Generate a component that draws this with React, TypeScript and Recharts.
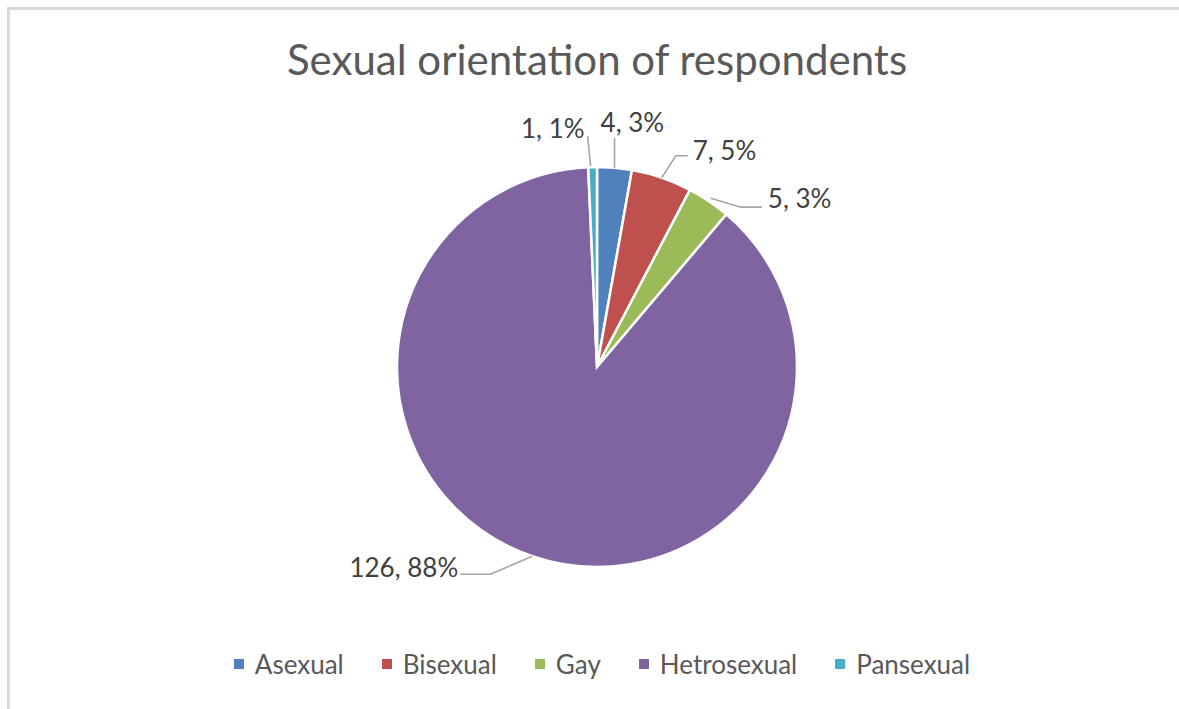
import { PieChart, Pie, Cell, Legend } from "recharts"

const categories = ["Asexual", "Bisexual", "Gay", "Hetrosexual", "Pansexual"]
const counts = [4, 7, 5, 126, 1]
const colors = ["#4F81BD", "#C0504D", "#9BBB59", "#8064A2", "#4BACC6"]

const total = counts.reduce((a, b) => a + b, 0)
const data = categories.map((name, i) => ({ name, value: counts[i] }))

const FONT = "Lato, 'Open Sans', sans-serif"
const RAD = Math.PI / 180

// leader line bends and text offsets, relative to the slice's outer edge point
const labelLayout = [
  { line: [[0, 0], [0, -30]], text: [-14, -46], anchor: "start" },
  { line: [[0, 0], [14, -22], [26, -22]], text: [31, -28], anchor: "start" },
  { line: [[2, -3], [32, 6], [53, 6]], text: [59, -3], anchor: "start" },
  { line: [[0, 0], [-42, 18], [-72, 18]], text: [-74, 11], anchor: "end" },
  { line: [[-2, -1], [-5, -31]], text: [-8, -39], anchor: "end" },
]

const renderLabel = (props: any) => {
  const { cx, cy, midAngle, outerRadius, index, value } = props
  const ex = cx + outerRadius * Math.cos(-midAngle * RAD)
  const ey = cy + outerRadius * Math.sin(-midAngle * RAD)
  const lay = labelLayout[index]
  const pts = lay.line.map(([dx, dy]) => `${ex + dx},${ey + dy}`).join(" ")
  const pct = Math.round((value / total) * 100)
  return (
    <g key={`lbl-${index}`}>
      <polyline points={pts} fill="none" stroke="#A6A6A6" strokeWidth={1.6} />
      <text
        x={ex + lay.text[0]}
        y={ey + lay.text[1]}
        textAnchor={lay.anchor as any}
        dominantBaseline="central"
        fill="#404040"
        fontSize={26}
        fontFamily={FONT}
      >
        {`${value}, ${pct}%`}
      </text>
    </g>
  )
}

const renderLegend = () => (
  <div style={{ display: "flex", justifyContent: "center", gap: 38, fontFamily: FONT, fontSize: 26, color: "#595959" }}>
    {categories.map((c, i) => (
      <div key={c} style={{ display: "flex", alignItems: "center" }}>
        <span style={{ width: 10, height: 10, background: colors[i], marginRight: 11, display: "inline-block" }} />
        <span>{c}</span>
      </div>
    ))}
  </div>
)

export default function App() {
  return (
    <div style={{ position: "absolute", left: 0, top: 0, width: 1179, height: 709, background: "#fff", overflow: "hidden" }}>
      <div
        style={{
          position: "absolute",
          left: 7,
          top: 7,
          width: 1300,
          height: 800,
          borderLeft: "3px solid #D9D9D9",
          borderTop: "3px solid #D9D9D9",
        }}
      />
      <div
        style={{
          position: "absolute",
          left: 0,
          top: 34,
          width: 1194,
          textAlign: "center",
          fontFamily: FONT,
          fontSize: 42,
          lineHeight: 1.2,
          color: "#595959",
        }}
      >
        Sexual orientation of respondents
      </div>
      <div style={{ position: "absolute", left: 0, top: 0 }}>
        <PieChart width={1179} height={709} margin={{ top: 0, right: 0, bottom: 0, left: 0 }}>
          <Pie
            data={data}
            dataKey="value"
            nameKey="name"
            cx={597}
            cy={367}
            outerRadius={200}
            startAngle={90}
            endAngle={-270}
            stroke="#fff"
            strokeWidth={2.5}
            label={renderLabel}
            labelLine={false}
            isAnimationActive={false}
          >
            {data.map((d, i) => (
              <Cell key={d.name} fill={colors[i]} />
            ))}
          </Pie>
          <Legend content={renderLegend} wrapperStyle={{ position: "absolute", top: 648, left: 0, width: 1204 }} />
        </PieChart>
      </div>
    </div>
  )
}
